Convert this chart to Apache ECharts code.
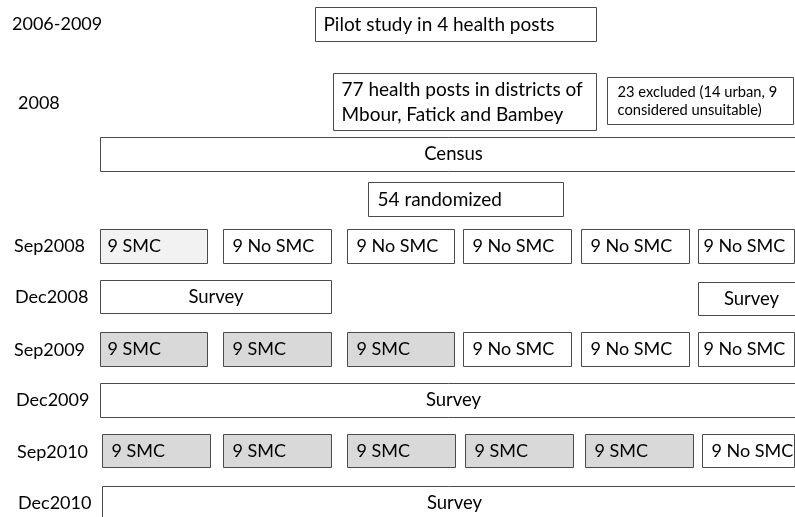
<!DOCTYPE html>
<html><head><meta charset="utf-8">
<script src="https://cdn.jsdelivr.net/npm/echarts@6/dist/echarts.min.js"></script>
<style>html,body{margin:0;padding:0;background:#fff}#c{width:795px;height:517px}</style>
</head><body><div id="c"></div>
<script>
// ---- content (data) ----
const rowLabels = ['2006-2009','2008','Sep2008','Dec2008','Sep2009','Dec2009','Sep2010','Dec2010'];
const stepTexts = ['Pilot study in 4 health posts','77 health posts in districts of\nMbour, Fatick and Bambey','23 excluded (14 urban, 9\nconsidered unsuitable)','Census','54 randomized','Survey','Survey','Survey','Survey'];
const arms2008 = ['9 SMC','9 No SMC','9 No SMC','9 No SMC','9 No SMC','9 No SMC'];
const smc2008 = [1,0,0,0,0,0];
const arms2009 = ['9 SMC','9 SMC','9 SMC','9 No SMC','9 No SMC','9 No SMC'];
const smc2009 = [1,1,1,0,0,0];
const arms2010 = ['9 SMC','9 SMC','9 SMC','9 SMC','9 SMC','9 No SMC'];
const smc2010 = [1,1,1,1,1,0];

// ---- layout (diagram units) ----
const rowLabelX = [12,18,14,15,14,16,17,18];
const rowLabelY = [24,103,246,297,350,400,452,503];
const stepBoxes = [[315,7,596,41],[333,73,596,130],[607,77,793,124],[100,137,806,171],[368,182,563,216],[100,280,331,313],[698,282,804,315],[100,383,806,417],[102,486,806,520]];
const stepAlign = ['left','left','left','center','left','center','center','center','center'];
const stepPad = [8,8,10,0,9,0,0,0,0];
const stepFont = [19,19,14.7,18.5,19,18.5,18.5,18.5,18.5];
const stepLine = [28,25,18,28,28,28,28,28,28];
const armCols = [[100,207],[223,331],[347,454],[463,571],[581,689],[698,794]];
const armCols2010 = [[102,210],[223,331],[347,455],[465,573],[585,693],[702,794]];
const armRowY = [[229,263],[332,366],[434,467]];
const armPad = [7,9,9,9,9,5];
const armPad2010 = [9,9,9,9,9,9];

const FONT = 'Lato';
const items = [];
stepBoxes.forEach((b,i)=>items.push({value:[b[0],b[1],b[2],b[3]],name:stepTexts[i],align:stepAlign[i],pad:stepPad[i],fs:stepFont[i],lh:stepLine[i],fill:'#ffffff'}));
function addArms(texts,flags,cols,ry,pads,lightFirst){
  texts.forEach((t,i)=>items.push({value:[cols[i][0],ry[0],cols[i][1],ry[1]],name:t,align:'left',pad:pads[i],fs:18,lh:28,
    fill: flags[i] ? (lightFirst ? '#f2f2f2' : '#d9d9d9') : '#ffffff'}));
}
addArms(arms2008,smc2008,armCols,armRowY[0],armPad,true);
addArms(arms2009,smc2009,armCols,armRowY[1],armPad,false);
addArms(arms2010,smc2010,armCols2010,armRowY[2],armPad2010,false);

const labelData = rowLabels.map((t,i)=>({value:[rowLabelX[i],rowLabelY[i]],name:t}));

const chart = echarts.init(document.getElementById('c'),null,{renderer:'canvas'});
chart.setOption({
  animation:false,
  grid:{left:0,right:0,top:0,bottom:0},
  xAxis:{type:'value',min:0,max:795,show:false},
  yAxis:{type:'value',min:0,max:517,inverse:true,show:false},
  series:[
    {type:'custom',clip:true,data:items,
     renderItem:function(params,api){
       const it=items[params.dataIndex];
       const p0=api.coord([api.value(0),api.value(1)]);
       const p1=api.coord([api.value(2),api.value(3)]);
       const x=Math.round(p0[0])+0.5, y=Math.round(p0[1])+0.5;
       const w=Math.round(p1[0]-p0[0]), h=Math.round(p1[1]-p0[1]);
       return {type:'group',children:[
         {type:'rect',shape:{x:x,y:y,width:w,height:h},style:{fill:it.fill,stroke:'#4a4a4a',lineWidth:1}},
         {type:'text',style:{text:it.name,x: it.align==='center'? x+w/2 : x+it.pad, y:y+h/2,
            align:it.align,verticalAlign:'middle',fontFamily:FONT,fontSize:it.fs,fill:'#000',lineHeight:it.lh}}
       ]};
     }},
    {type:'custom',data:labelData,
     renderItem:function(params,api){
       const p=api.coord([api.value(0),api.value(1)]);
       return {type:'text',style:{text:labelData[params.dataIndex].name,x:p[0],y:p[1],align:'left',verticalAlign:'middle',fontFamily:FONT,fontSize:18,fill:'#000'}};
     }}
  ]
});
</script></body></html>
